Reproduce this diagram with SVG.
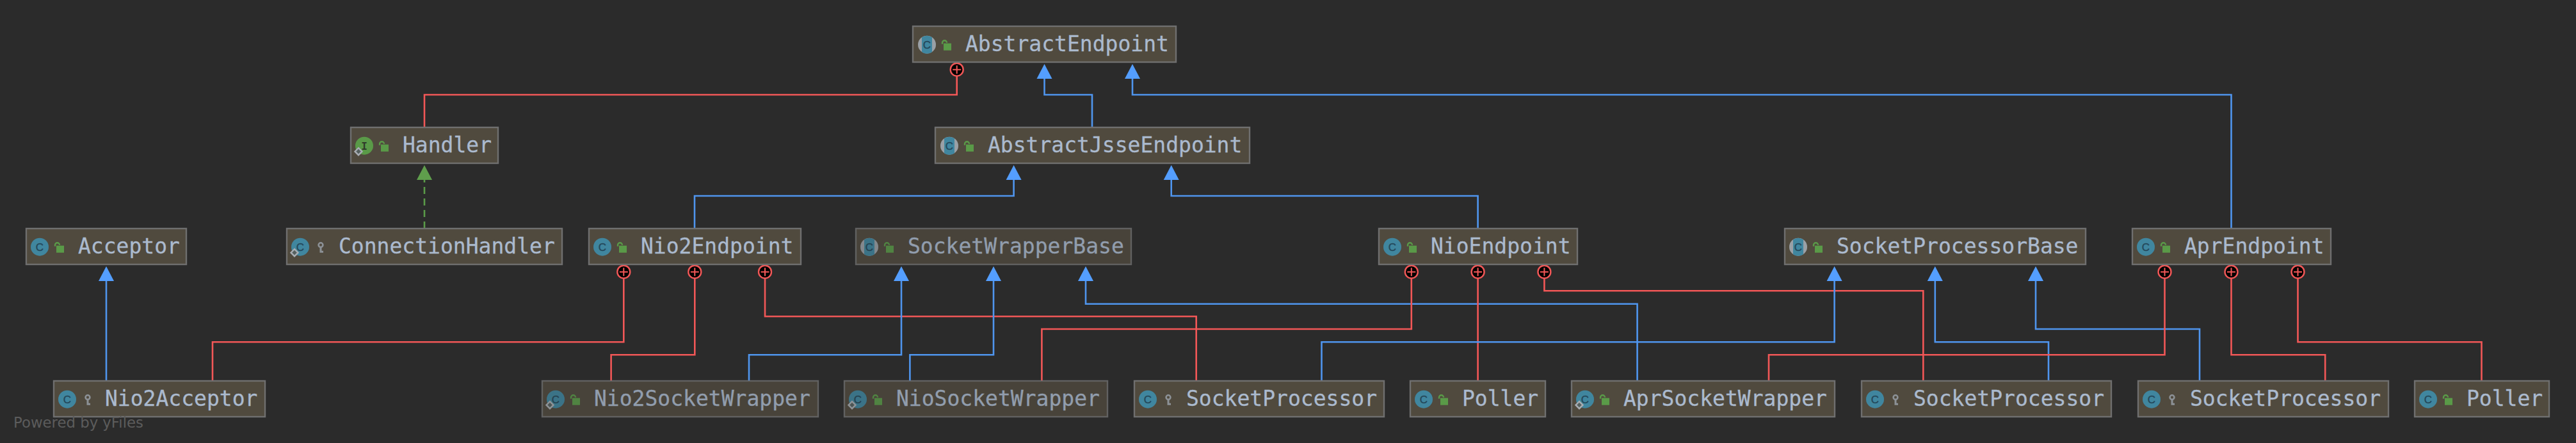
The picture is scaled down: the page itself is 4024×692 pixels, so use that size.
<svg xmlns="http://www.w3.org/2000/svg" width="4024" height="692" viewBox="0 0 4024 692">
<style>
.bg{fill:#2b2b2b}
.node rect.b{fill:#504a3e;stroke:#6f6f6f;stroke-width:2.4}
.dim{opacity:.8}
.t{font-family:"DejaVu Sans Mono","Liberation Mono",monospace;font-size:33px;fill:#abbace;stroke:#abbace;stroke-width:.3}
.ic{font-family:"Liberation Sans",sans-serif;font-size:17px;fill:#24485a;text-anchor:middle;stroke:#24485a;stroke-width:.4}
.ii{font-family:"DejaVu Sans Mono",monospace;font-size:16px;font-weight:bold;fill:#2f3a2a;text-anchor:middle}
.wm{font-family:"DejaVu Sans",sans-serif;font-size:22.800px;fill:#5c5c5c}
.c{fill:none;stroke-width:2.6}
.in{stroke:#4f95ee;marker-end:url(#tri)}
.ne{stroke:#f25757;marker-start:url(#plus)}
.im{stroke:#5a9a48;stroke-dasharray:11 7;marker-end:url(#trig)}
</style>
<defs>
<marker id="tri" markerUnits="userSpaceOnUse" markerWidth="26" markerHeight="26" refX="13" refY="24" overflow="visible"><path d="M13 1L25 24H1Z" fill="#549eff"/></marker>
<marker id="trig" markerUnits="userSpaceOnUse" markerWidth="26" markerHeight="26" refX="13" refY="24" overflow="visible"><path d="M13 1L25 24H1Z" fill="#5f9e4c"/></marker>
<marker id="plus" markerUnits="userSpaceOnUse" markerWidth="26" markerHeight="26" refX="13" refY="13" overflow="visible"><circle cx="13" cy="13" r="10" fill="#000" stroke="#f25757" stroke-width="2.4"/><path d="M6.500 13H19.500M13 6.500V19.500" stroke="#f25757" stroke-width="2" fill="none"/></marker>
<g id="cls"><circle r="14" fill="#40869f"/></g>
<g id="abs"><circle r="14" fill="#9aa0a6"/><path d="M-8-11.500A14 14 0 0 1 8-11.500V11.500A14 14 0 0 1-8 11.500Z" fill="#40869f"/></g>
<g id="ifc"><circle r="14" fill="#5a9a48"/></g>
<g id="lock"><path d="M24-1V-3A3.500 3.500 0 0 1 31-3" fill="none" stroke="#5a9a48" stroke-width="2.400"/><rect x="26" y="-2" width="12" height="11" fill="#5a9a48"/></g>
<g id="key"><circle cx="32" cy="-3" r="3.400" fill="none" stroke="#8c9196" stroke-width="2.600"/><path d="M32 0V9M32 7.500H36" fill="none" stroke="#8c9196" stroke-width="3"/></g>
<path id="st" d="M-9 3.500L-3.500 9L-9 14.500L-14.500 9Z" fill="#55605f" stroke="#a8adb3" stroke-width="2.400"/>
</defs>
<rect class="bg" width="4024" height="692"/>
<g id="connectors">
<path class="c ne" d="M1494.700 108.700V148H663V199"/>
<path class="c in" d="M1706 199V148H1631.500V123"/>
<path class="c in" d="M3485.500 357V148H1769V123"/>
<path class="c im" d="M663 357V281"/>
<path class="c in" d="M1085 357V306H1583.600V281"/>
<path class="c in" d="M2308.600 357V306H1829.700V281"/>
<path class="c in" d="M166 595V439"/>
<path class="c ne" d="M974.300 424.700V534.300H332V595"/>
<path class="c ne" d="M1085.300 424.700V554.300H954.600V595"/>
<path class="c ne" d="M1195 424.700V494.300H1868.700V595"/>
<path class="c in" d="M1170 595V554.300H1408V439"/>
<path class="c in" d="M1421.400 595V554.300H1552V439"/>
<path class="c in" d="M2557.600 595V474.700H1696V439"/>
<path class="c ne" d="M2204.800 424.700V514H1627.400V595"/>
<path class="c ne" d="M2308.600 424.700V595"/>
<path class="c ne" d="M2412.400 424.700V454.300H3004.300V595"/>
<path class="c in" d="M2064.500 595V534.300H2865.600V439"/>
<path class="c in" d="M3200 595V534.300H3022.800V439"/>
<path class="c in" d="M3436 595V514H3180V439"/>
<path class="c ne" d="M3381.500 424.700V554.300H2763V595"/>
<path class="c ne" d="M3485.500 424.700V554.300H3632.200V595"/>
<path class="c ne" d="M3589.500 424.700V534.300H3876.500V595"/>
</g>
<g id="n-AbstractEndpoint" class="node"><rect class="b" x="1426" y="41" width="411" height="56"/><use href="#abs" x="1448" y="69.700"/><text class="ic" x="1448" y="75.700">C</text><use href="#lock" x="1448" y="69.700"/><text class="t" x="1508" y="80">AbstractEndpoint</text></g>
<g id="n-AbstractJsseEndpoint" class="node"><rect class="b" x="1461" y="199" width="491" height="56"/><use href="#abs" x="1483" y="227.700"/><text class="ic" x="1483" y="233.700">C</text><use href="#lock" x="1483" y="227.700"/><text class="t" x="1543" y="238">AbstractJsseEndpoint</text></g>
<g id="n-Handler" class="node"><rect class="b" x="548" y="199" width="230" height="56"/><use href="#ifc" x="569" y="227.700"/><text class="ii" x="569" y="233.500">I</text><use href="#st" x="569" y="227.700"/><use href="#lock" x="569" y="227.700"/><text class="t" x="629" y="238">Handler</text></g>
<g id="n-Acceptor" class="node"><rect class="b" x="41" y="357" width="250" height="56"/><use href="#cls" x="62" y="385.700"/><text class="ic" x="62" y="391.700">C</text><use href="#lock" x="62" y="385.700"/><text class="t" x="122" y="396">Acceptor</text></g>
<g id="n-ConnectionHandler" class="node"><rect class="b" x="448" y="357" width="430" height="56"/><use href="#cls" x="469" y="385.700"/><text class="ic" x="469" y="391.700">C</text><use href="#st" x="469" y="385.700"/><use href="#key" x="469" y="385.700"/><text class="t" x="529" y="396">ConnectionHandler</text></g>
<g id="n-Nio2Endpoint" class="node"><rect class="b" x="920" y="357" width="331" height="56"/><use href="#cls" x="941" y="385.700"/><text class="ic" x="941" y="391.700">C</text><use href="#lock" x="941" y="385.700"/><text class="t" x="1001" y="396">Nio2Endpoint</text></g>
<g id="n-SocketWrapperBase" class="node dim"><rect class="b" x="1337" y="357" width="430" height="56"/><use href="#abs" x="1358" y="385.700"/><text class="ic" x="1358" y="391.700">C</text><use href="#lock" x="1358" y="385.700"/><text class="t" x="1418" y="396">SocketWrapperBase</text></g>
<g id="n-NioEndpoint" class="node"><rect class="b" x="2154" y="357" width="310" height="56"/><use href="#cls" x="2175" y="385.700"/><text class="ic" x="2175" y="391.700">C</text><use href="#lock" x="2175" y="385.700"/><text class="t" x="2235" y="396">NioEndpoint</text></g>
<g id="n-SocketProcessorBase" class="node"><rect class="b" x="2788" y="357" width="470" height="56"/><use href="#abs" x="2809" y="385.700"/><text class="ic" x="2809" y="391.700">C</text><use href="#lock" x="2809" y="385.700"/><text class="t" x="2869" y="396">SocketProcessorBase</text></g>
<g id="n-AprEndpoint" class="node"><rect class="b" x="3331" y="357" width="310" height="56"/><use href="#cls" x="3352" y="385.700"/><text class="ic" x="3352" y="391.700">C</text><use href="#lock" x="3352" y="385.700"/><text class="t" x="3412" y="396">AprEndpoint</text></g>
<g id="n-Nio2Acceptor" class="node"><rect class="b" x="84" y="595" width="330" height="56"/><use href="#cls" x="105" y="623.700"/><text class="ic" x="105" y="629.700">C</text><use href="#key" x="105" y="623.700"/><text class="t" x="164" y="634">Nio2Acceptor</text></g>
<g id="n-Nio2SocketWrapper" class="node dim"><rect class="b" x="847" y="595" width="431" height="56"/><use href="#cls" x="868" y="623.700"/><text class="ic" x="868" y="629.700">C</text><use href="#st" x="868" y="623.700"/><use href="#lock" x="868" y="623.700"/><text class="t" x="928" y="634">Nio2SocketWrapper</text></g>
<g id="n-NioSocketWrapper" class="node dim"><rect class="b" x="1319" y="595" width="411" height="56"/><use href="#cls" x="1340" y="623.700"/><text class="ic" x="1340" y="629.700">C</text><use href="#st" x="1340" y="623.700"/><use href="#lock" x="1340" y="623.700"/><text class="t" x="1400" y="634">NioSocketWrapper</text></g>
<g id="n-SocketProcessor-nio2" class="node"><rect class="b" x="1772" y="595" width="390" height="56"/><use href="#cls" x="1793" y="623.700"/><text class="ic" x="1793" y="629.700">C</text><use href="#key" x="1793" y="623.700"/><text class="t" x="1853" y="634">SocketProcessor</text></g>
<g id="n-Poller-nio" class="node"><rect class="b" x="2203" y="595" width="211" height="56"/><use href="#cls" x="2224" y="623.700"/><text class="ic" x="2224" y="629.700">C</text><use href="#lock" x="2224" y="623.700"/><text class="t" x="2284" y="634">Poller</text></g>
<g id="n-AprSocketWrapper" class="node"><rect class="b" x="2455" y="595" width="411" height="56"/><use href="#cls" x="2476" y="623.700"/><text class="ic" x="2476" y="629.700">C</text><use href="#st" x="2476" y="623.700"/><use href="#lock" x="2476" y="623.700"/><text class="t" x="2536" y="634">AprSocketWrapper</text></g>
<g id="n-SocketProcessor-nio" class="node"><rect class="b" x="2908" y="595" width="390" height="56"/><use href="#cls" x="2929" y="623.700"/><text class="ic" x="2929" y="629.700">C</text><use href="#key" x="2929" y="623.700"/><text class="t" x="2989" y="634">SocketProcessor</text></g>
<g id="n-SocketProcessor-apr" class="node"><rect class="b" x="3340" y="595" width="391" height="56"/><use href="#cls" x="3361" y="623.700"/><text class="ic" x="3361" y="629.700">C</text><use href="#key" x="3361" y="623.700"/><text class="t" x="3421" y="634">SocketProcessor</text></g>
<g id="n-Poller-apr" class="node"><rect class="b" x="3772" y="595" width="210" height="56"/><use href="#cls" x="3793" y="623.700"/><text class="ic" x="3793" y="629.700">C</text><use href="#lock" x="3793" y="623.700"/><text class="t" x="3853" y="634">Poller</text></g>
<text class="wm" x="21" y="668">Powered by yFiles</text>
</svg>
